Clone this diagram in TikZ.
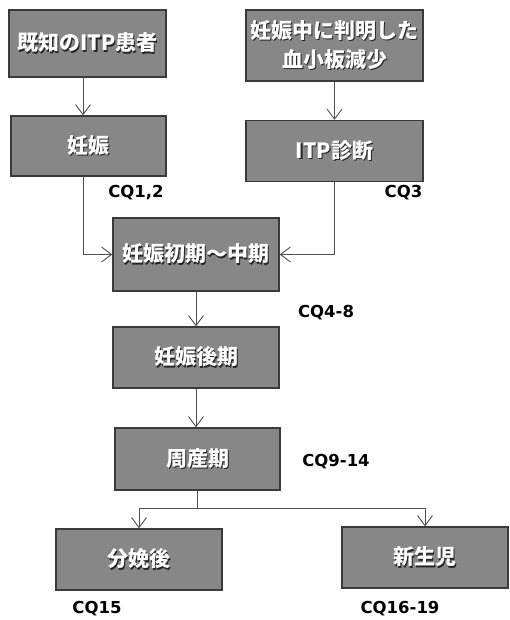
\documentclass[tikz,border=0pt]{standalone}
\usepackage{fontspec}
\usetikzlibrary{arrows.meta}
\newfontfamily\jp{Noto Sans CJK JP}
\newfontfamily\cqfont{DejaVu Sans}
\newcommand{\sh}[1]{\makebox[0pt][l]{\kern1.3pt\raisebox{-1.3pt}{\color{black!85}#1}}{\color{white}#1}}
\definecolor{boxgray}{HTML}{878787}
\definecolor{boxline}{HTML}{3A3A3A}
\definecolor{linegray}{HTML}{505050}
\tikzset{
  box/.style={draw=boxline, line width=1.4pt, fill=boxgray, rectangle, inner sep=0pt,
    font=\jp\bfseries\fontsize{21}{29}\selectfont, align=center},
  cq/.style={font=\cqfont\bfseries\fontsize{16.5}{19}\selectfont, text=black, inner sep=0pt},
  arr/.style={draw=linegray, line width=0.9pt, -{Straight Barb[length=10pt,width=15pt,line width=0.9pt]}},
  ln/.style={draw=linegray, line width=0.9pt}
}
\begin{document}
\begin{tikzpicture}[x=1pt,y=-1pt]
\useasboundingbox (0,0) rectangle (509,620);
\node[box, minimum width=157pt, minimum height=67pt] (b1) at (87.5,43.5) {\sh{既知のITP患者}};
\node[box, minimum width=155pt, minimum height=60pt] (b2) at (88.5,146) {\sh{妊娠}};
\node[box, minimum width=177pt, minimum height=71pt] (b3) at (334.5,45.5) {\sh{妊娠中に判明した}\\\sh{血小板減少}};
\node[box, minimum width=177pt, minimum height=61pt] (b4) at (334.5,151) {\sh{ITP診断}};
\node[box, minimum width=166pt, minimum height=73pt] (b5) at (196,254.5) {\sh{妊娠初期～中期}};
\node[box, minimum width=166pt, minimum height=61pt] (b6) at (196,357.5) {\sh{妊娠後期}};
\node[box, minimum width=165pt, minimum height=62pt] (b7) at (197.5,459) {\sh{周産期}};
\node[box, minimum width=166pt, minimum height=61pt] (b8) at (139,559.5) {\sh{分娩後}};
\node[box, minimum width=166pt, minimum height=61pt] (b9) at (425,557.5) {\sh{新生児}};

\node[cq] (cq12) at (136,193) {CQ1,2};
\node[cq] (cq3) at (403.5,193) {CQ3};
\node[cq] (cq48) at (326,313) {CQ4-8};
\node[cq] (cq914) at (336,462) {CQ9-14};
\node[cq] (cq15) at (97,609) {CQ15};
\node[cq] (cq1619) at (400,609) {CQ16-19};

\coordinate (xl) at (83,0);
\coordinate (jn) at (197.5,508);

\draw[arr] (b1.south -| xl) -- (b2.north -| xl);
\draw[arr] (b3.south) -- (b4.north);
\draw[arr] (b2.south -| xl) |- (b5.west);
\draw[arr] (b4.south) |- (b5.east);
\draw[arr] (b5.south) -- (b6.north);
\draw[arr] (b6.south) -- (b6.south |- b7.north);
\draw[ln] (b7.south) -- (jn);
\draw[arr] (jn) -| (b8.north);
\draw[arr] (jn) -| (b9.north);
\end{tikzpicture}
\end{document}
